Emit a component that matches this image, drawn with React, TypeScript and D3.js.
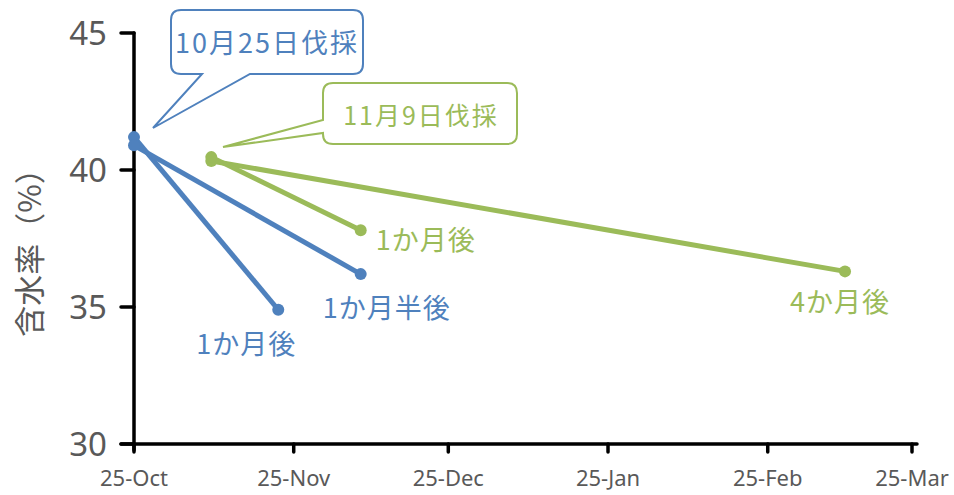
import React from "react";
import * as d3 from "d3";

const W = 954;
const H = 495;

// Tick labels
const xTickDates = ["2014-10-25", "2014-11-25", "2014-12-25", "2015-01-25", "2015-02-25", "2015-03-25"];
const xTickLabels = ["25-Oct", "25-Nov", "25-Dec", "25-Jan", "25-Feb", "25-Mar"];
const yTicks = [30, 35, 40, 45];

// Series (date, moisture %)
const blue1Dates = ["2014-10-25", "2014-11-22"];
const blue1Values = [41.2, 34.9];
const blue2Dates = ["2014-10-25", "2014-12-08"];
const blue2Values = [40.9, 36.2];
const green1Dates = ["2014-11-09", "2014-12-08"];
const green1Values = [40.47, 37.8];
const green2Dates = ["2014-11-09", "2015-03-12"];
const green2Values = [40.33, 36.3];

const BLUE = "#4F81BD";
const GREEN = "#9BBB59";
const GREY = "#595959";
const CJK = "'Noto Sans CJK JP', 'Noto Sans', sans-serif";
const LAT = "'Noto Sans', 'Open Sans', sans-serif";

const parse = d3.timeParse("%Y-%m-%d");

export default function App() {
  const x = d3
    .scaleTime()
    .domain([parse("2014-10-25")!, parse("2015-03-25")!])
    .range([134, 912]);
  const y = d3.scaleLinear().domain([30, 45]).range([444, 33]);

  const line = d3
    .line<[Date, number]>()
    .x((d) => x(d[0]))
    .y((d) => y(d[1]));

  const mk = (dates: string[], vals: number[]) =>
    dates.map((d, i) => [parse(d)!, vals[i]] as [Date, number]);

  const series = [
    { data: mk(blue1Dates, blue1Values), color: BLUE },
    { data: mk(blue2Dates, blue2Values), color: BLUE },
    { data: mk(green2Dates, green2Values), color: GREEN },
    { data: mk(green1Dates, green1Values), color: GREEN },
  ];

  const end = (s: [Date, number][]) => s[s.length - 1];
  const b1 = end(series[0].data);
  const b2 = end(series[1].data);
  const g2 = end(series[2].data);
  const g1 = end(series[3].data);

  const x0 = x.range()[0];
  const yB = y.range()[0];

  return (
    <svg
      width={W}
      height={H}
      style={{ position: "absolute", left: 0, top: 0, background: "#fff" }}
    >
      {/* Axes */}
      <g stroke="#000" strokeWidth={3.5} strokeLinecap="round">
        <line x1={x0} y1={y(45)} x2={x0} y2={yB + 6} />
        <line x1={x0 - 13} y1={yB} x2={917} y2={yB} />
        {yTicks.map((t) => (
          <line key={t} x1={x0 - 13} y1={y(t)} x2={x0} y2={y(t)} />
        ))}
        {xTickDates.map((d) => (
          <line key={d} x1={x(parse(d)!)} y1={yB} x2={x(parse(d)!)} y2={yB + 8} />
        ))}
      </g>
      {yTicks.map((t) => (
        <text
          key={t}
          x={107}
          y={y(t)}
          dy="0.36em"
          textAnchor="end"
          fontFamily={LAT}
          fontSize={33}
          fill={GREY}
        >
          {t}
        </text>
      ))}
      {xTickDates.map((d, i) => (
        <text
          key={d}
          x={x(parse(d)!)}
          y={478}
          dy="0.35em"
          textAnchor="middle"
          fontFamily={LAT}
          fontSize={22}
          fill={GREY}
        >
          {xTickLabels[i]}
        </text>
      ))}
      <text
        transform={`translate(30,${245}) rotate(-90)`}
        textAnchor="middle"
        fontFamily={CJK}
        fontSize={31}
        fill={GREY}
        dy="0.35em"
      >
        含水率（%）
      </text>

      {/* Series */}
      {series.map((s, i) => (
        <g key={i}>
          <path d={line(s.data)!} fill="none" stroke={s.color} strokeWidth={5} />
          {s.data.map((p, j) => (
            <circle key={j} cx={x(p[0])} cy={y(p[1])} r={6} fill={s.color} />
          ))}
        </g>
      ))}

      {/* End labels */}
      <g fontFamily={CJK} fontSize={27} letterSpacing={1}>
        <text x={x(b1[0]) - 32} y={y(b1[1]) + 35} dy="0.35em" textAnchor="middle" fill={BLUE}>
          1か月後
        </text>
        <text x={x(b2[0]) + 26} y={y(b2[1]) + 34} dy="0.35em" textAnchor="middle" fill={BLUE}>
          1か月半後
        </text>
        <text x={x(g1[0]) + 15} y={y(g1[1]) + 10} dy="0.35em" textAnchor="start" fill={GREEN}>
          1か月後
        </text>
        <text x={x(g2[0]) - 5} y={y(g2[1]) + 31} dy="0.35em" textAnchor="middle" fill={GREEN}>
          4か月後
        </text>
      </g>

      {/* Callouts */}
      <path
        d="M181,10 H353 Q363,10 363,20 V64 Q363,74 353,74 H250 L153,128 L202,74 H181 Q171,74 171,64 V20 Q171,10 181,10 Z"
        fill="#fff"
        stroke={BLUE}
        strokeWidth={2}
      />
      <text x={267} y={44} dy="0.35em" textAnchor="middle" fontFamily={CJK} fontSize={27} letterSpacing={2} fill={BLUE}>
        10月25日伐採
      </text>
      <path
        d="M333,83 H507 Q517,83 517,93 V134 Q517,144 507,144 H333 Q323,144 323,134 V133 L223,147 L323,120 V93 Q323,83 333,83 Z"
        fill="#fff"
        stroke={GREEN}
        strokeWidth={2}
      />
      <text x={421} y={116} dy="0.35em" textAnchor="middle" fontFamily={CJK} fontSize={25} letterSpacing={2} fill={GREEN}>
        11月9日伐採
      </text>
    </svg>
  );
}
